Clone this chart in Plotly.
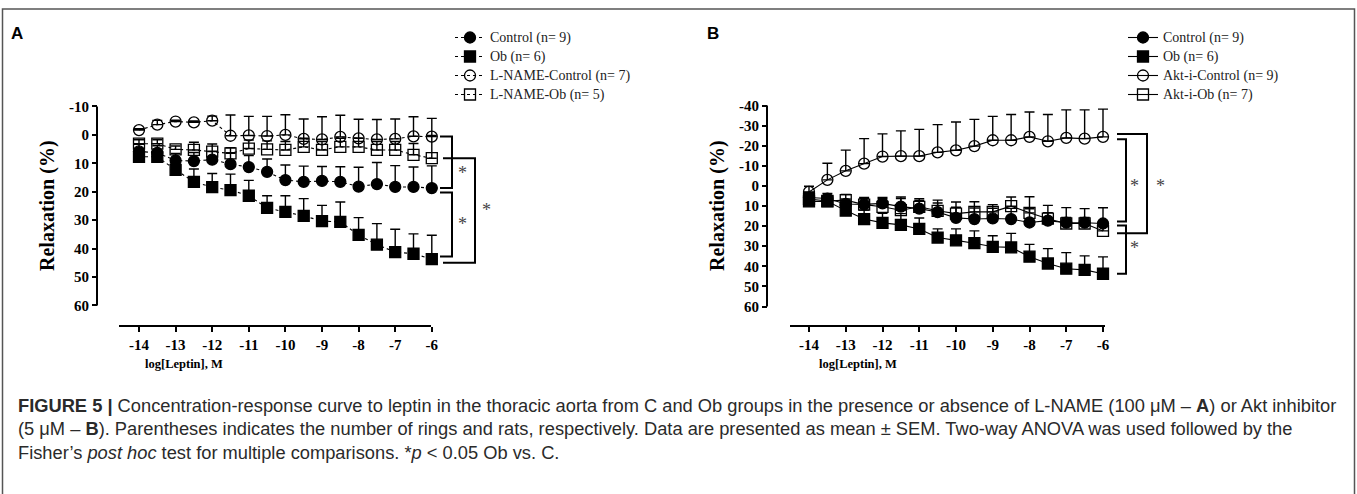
import plotly.graph_objects as go

W, H = 1357, 494

# ---------------- data ----------------
log_leptin = [-14.0, -13.5, -13.0, -12.5, -12.0, -11.5, -11.0, -10.5, -10.0,
              -9.5, -9.0, -8.5, -8.0, -7.5, -7.0, -6.5, -6.0]
x_ticks = [-14, -13, -12, -11, -10, -9, -8, -7, -6]
a_y_ticks = [-10, 0, 10, 20, 30, 40, 50, 60]
b_y_ticks = [-40, -30, -20, -10, 0, 10, 20, 30, 40, 50, 60]

control = [5.8, 6.3, 9.0, 9.2, 8.7, 10.3, 11.3, 13.0, 15.9, 16.5, 16.2, 16.5, 18.2, 17.3, 18.3, 18.3, 18.7]
control_sem = [2.5, 2.5, 2.5, 3.0, 3.0, 4.0, 4.0, 4.5, 5.3, 5.5, 5.1, 5.3, 6.8, 7.6, 7.5, 7.0, 7.8]
ob = [7.7, 7.7, 12.3, 16.5, 18.4, 19.4, 21.4, 25.7, 27.1, 28.5, 30.3, 30.6, 35.2, 38.6, 41.2, 41.8, 43.7]
ob_sem = [1.5, 1.5, 2.5, 4.5, 4.8, 5.6, 5.4, 4.3, 5.7, 6.1, 5.5, 7.0, 6.1, 7.4, 8.0, 7.0, 8.4]
lname_control = [-1.7, -3.6, -4.7, -4.4, -5.0, 0.3, 0.2, 0.4, 0.0, 1.4, 1.6, 0.7, 1.2, 1.6, 1.4, 0.5, 0.6]
lname_control_sem = [0.5, 1.5, 0.5, 0.5, 1.6, 7.3, 6.7, 6.9, 7.1, 7.0, 8.0, 7.6, 6.7, 7.0, 7.0, 6.9, 6.4]
lname_ob = [3.1, 3.1, 5.1, 5.3, 5.9, 6.5, 4.8, 5.1, 5.3, 4.2, 5.3, 4.2, 4.2, 5.3, 5.3, 7.0, 8.2]
lname_ob_sem = [1.4, 1.4, 1.2, 2.7, 2.7, 2.0, 3.0, 3.0, 3.0, 3.0, 3.0, 3.0, 3.0, 3.0, 3.0, 4.0, 8.0]
akt_control = [3.0, -3.0, -7.5, -11.1, -14.6, -14.8, -14.8, -16.7, -17.7, -19.8, -22.7, -22.7, -24.4, -22.2, -23.9, -23.5, -24.4]
akt_control_sem = [2.8, 8.3, 10.3, 12.4, 11.3, 12.6, 13.3, 13.8, 14.1, 13.3, 11.9, 12.8, 12.4, 13.3, 13.9, 14.3, 13.8]
akt_ob = [6.5, 7.5, 7.1, 9.3, 10.4, 12.1, 10.4, 12.4, 13.8, 12.9, 12.9, 10.1, 13.4, 16.3, 18.7, 18.7, 22.4]
akt_ob_sem = [1.5, 2.0, 2.8, 3.5, 4.0, 6.6, 4.0, 5.3, 5.8, 5.0, 3.6, 4.6, 8.0, 3.0, 3.0, 3.0, 3.0]

names_a = ["Control (n= 9)", "Ob (n= 6)", "L-NAME-Control (n= 7)", "L-NAME-Ob (n= 5)"]
names_b = ["Control (n= 9)", "Ob (n= 6)", "Akt-i-Control (n= 9)", "Akt-i-Ob (n= 7)"]

# ---------------- geometry (pixel layout of each panel) ----------------
PA = dict(x0=139.0, sx=36.6, y0=134.9, sy=2.843, dom_x=(85, 515), dom_y=(92, 340),
          yaxis_px=97, xaxis_py=326, xline=(119, 431))
PB = dict(x0=809.0, sx=36.75, y0=185.9, sy=2.01, dom_x=(755, 1190), dom_y=(92, 340),
          yaxis_px=767, xaxis_py=326, xline=(790, 1105))


def xv(P, px):
    return -14 + (px - P["x0"]) / P["sx"]


def yv(P, py):
    return (py - P["y0"]) / P["sy"]


SERIF = "Liberation Serif, Times New Roman, serif"
fig = go.Figure()


def add(x, y, err, name, symbol, dash, xa, ya, leg, grp):
    n = len(y)
    fig.add_trace(go.Scatter(
        x=x, y=y, mode="lines+markers",
        name=f'<span style="font-size:14px">{name}</span>',
        xaxis=xa, yaxis=ya, legend=leg, legendgroup=grp, cliponaxis=False,
        marker=dict(symbol=symbol, size=11, color="black",
                    line=dict(color="black", width=1.3)),
        line=dict(color="black", width=1.1, dash=dash),
        error_y=dict(type="data", symmetric=False, array=[0] * n, arrayminus=err,
                     color="black", thickness=1.4, width=5),
    ))


add(log_leptin, control, control_sem, names_a[0], "circle", "dot", "x", "y", "legend", "a1")
add(log_leptin, ob, ob_sem, names_a[1], "square", "dot", "x", "y", "legend", "a2")
add(log_leptin, lname_control, lname_control_sem, names_a[2], "circle-open", "dot", "x", "y", "legend", "a3")
add(log_leptin, lname_ob, lname_ob_sem, names_a[3], "square-open", "dot", "x", "y", "legend", "a4")

add(log_leptin, control, control_sem, names_b[0], "circle", "solid", "x2", "y2", "legend2", "b1")
add(log_leptin, ob, ob_sem, names_b[1], "square", "solid", "x2", "y2", "legend2", "b2")
add(log_leptin, akt_control, akt_control_sem, names_b[2], "circle-open", "solid", "x2", "y2", "legend2", "b3")
add(log_leptin, akt_ob, akt_ob_sem, names_b[3], "square-open", "solid", "x2", "y2", "legend2", "b4")


def axes(P, yticks):
    xa = dict(domain=[P["dom_x"][0] / W, P["dom_x"][1] / W],
              range=[xv(P, P["dom_x"][0]), xv(P, P["dom_x"][1])],
              anchor="free", position=1 - P["xaxis_py"] / H,
              tickvals=x_ticks, ticktext=[str(t) for t in x_ticks],
              ticks="outside", ticklen=5, tickwidth=2, tickcolor="black",
              showline=False, showgrid=False, zeroline=False,
              tickfont=dict(family=SERIF, size=15, color="black", weight="bold"))
    ya = dict(domain=[1 - P["dom_y"][1] / H, 1 - P["dom_y"][0] / H],
              range=[yv(P, P["dom_y"][1]), yv(P, P["dom_y"][0])],
              anchor="free", position=P["yaxis_px"] / W,
              tickvals=yticks, ticktext=[str(t) for t in yticks],
              ticks="outside", ticklen=5, tickwidth=2, tickcolor="black",
              showline=False, showgrid=False, zeroline=False,
              tickfont=dict(family=SERIF, size=15, color="black", weight="bold"))
    return xa, ya


xa1, ya1 = axes(PA, a_y_ticks)
xa2, ya2 = axes(PB, b_y_ticks)

shapes = []
# frame
shapes.append(dict(type="rect", xref="paper", yref="paper", x0=2.5 / W, x1=1354.5 / W,
                   y0=-0.05, y1=1 - 9 / H, line=dict(color="#555", width=1.5)))


def axis_lines(P, xr, yr, yticks):
    shapes.append(dict(type="line", xref=xr, yref=yr,
                       x0=xv(P, P["yaxis_px"]), x1=xv(P, P["yaxis_px"]),
                       y0=yticks[0], y1=yticks[-1], line=dict(color="black", width=2)))
    shapes.append(dict(type="line", xref=xr, yref=yr,
                       x0=xv(P, P["xline"][0]), x1=xv(P, P["xline"][1]),
                       y0=yv(P, P["xaxis_py"]), y1=yv(P, P["xaxis_py"]),
                       line=dict(color="black", width=2)))


axis_lines(PA, "x", "y", a_y_ticks)
axis_lines(PB, "x2", "y2", b_y_ticks)


def bracket(P, xr, yr, xin, xout, ytop, ybot):
    a, b = xv(P, xin), xv(P, xout)
    shapes.append(dict(type="path", xref=xr, yref=yr,
                       path=f"M {a},{ytop} L {b},{ytop} L {b},{ybot} L {a},{ybot}",
                       line=dict(color="black", width=2)))


# panel A brackets
bracket(PA, "x", "y", 440, 452, lname_control[-1], control[-1])
bracket(PA, "x", "y", 440, 452, control[-1] + 1.6, ob[-1] - 0.9)
bracket(PA, "x", "y", 443, 475, lname_ob[-1], ob[-1] + 1.3)
# panel B brackets
bracket(PB, "x2", "y2", 1117, 1126, akt_control[-1] + 1.2, control[-1] - 1.0)
bracket(PB, "x2", "y2", 1117, 1147, akt_control[-1] - 1.4, akt_ob[-1] + 1.2)
bracket(PB, "x2", "y2", 1117, 1126, control[-1] + 1.0, ob[-1])

ann = []


def star(P, xr, yr, px, py):
    ann.append(dict(x=xv(P, px), y=yv(P, py), xref=xr, yref=yr, text="*", showarrow=False,
                    font=dict(family=SERIF, size=18, color="#444")))


star(PA, "x", "y", 462, 173)
star(PA, "x", "y", 462, 224)
star(PA, "x", "y", 486, 210)
star(PB, "x2", "y2", 1134, 186)
star(PB, "x2", "y2", 1160, 186)
star(PB, "x2", "y2", 1134, 248)

# panel letters
for txt, px in (("A", 17), ("B", 713)):
    ann.append(dict(x=px / W, y=1 - 34 / H, xref="paper", yref="paper", text=txt,
                    showarrow=False, xanchor="center", yanchor="middle",
                    font=dict(family="Liberation Sans, Arial, sans-serif", size=17,
                              color="black", weight="bold")))

# axis titles
for px, py in ((47, 206), (717, 206)):
    ann.append(dict(x=px / W, y=1 - py / H, xref="paper", yref="paper", text="Relaxation (%)",
                    textangle=-90, showarrow=False, xanchor="center", yanchor="middle",
                    font=dict(family=SERIF, size=20, color="black", weight="bold")))
for px in (184, 858):
    ann.append(dict(x=px / W, y=1 - 364 / H, xref="paper", yref="paper", text="log[Leptin], M",
                    showarrow=False, xanchor="center", yanchor="middle",
                    font=dict(family=SERIF, size=12.5, color="black", weight="bold")))

# caption
caption = [
    "<b>FIGURE 5 |</b> Concentration-response curve to leptin in the thoracic aorta from C and Ob groups "
    "in the presence or absence of L-NAME (100 μM – <b>A</b>) or Akt inhibitor",
    "(5 μM – <b>B</b>). Parentheses indicates the number of rings and rats, respectively. Data are "
    "presented as mean ± SEM. Two-way ANOVA was used followed by the",
    "Fisher’s <i>post hoc</i> test for multiple comparisons. *<i>p</i> &lt; 0.05 Ob vs. C.",
]
for i, line in enumerate(caption):
    ann.append(dict(x=16 / W, y=1 - (405 + 23.5 * i) / H, xref="paper", yref="paper", text=line,
                    showarrow=False, xanchor="left", yanchor="middle",
                    font=dict(family="Liberation Sans, Arial, sans-serif",
                              size=18.3, color="#2a2a2a")))

leg_common = dict(xanchor="left", yanchor="top", bgcolor="rgba(0,0,0,0)",
                  font=dict(family=SERIF, size=11, color="#222"),
                  tracegroupgap=0, itemwidth=30, traceorder="normal")

fig.update_layout(
    width=W, height=H, margin=dict(l=0, r=0, t=0, b=0),
    paper_bgcolor="white", plot_bgcolor="rgba(0,0,0,0)",
    xaxis=xa1, yaxis=ya1, xaxis2=xa2, yaxis2=ya2,
    shapes=shapes, annotations=ann,
    legend=dict(x=450 / W, y=1 - 23 / H, **leg_common),
    legend2=dict(x=1123 / W, y=1 - 23 / H, **leg_common),
    showlegend=True,
)

fig.write_html("out.html")
